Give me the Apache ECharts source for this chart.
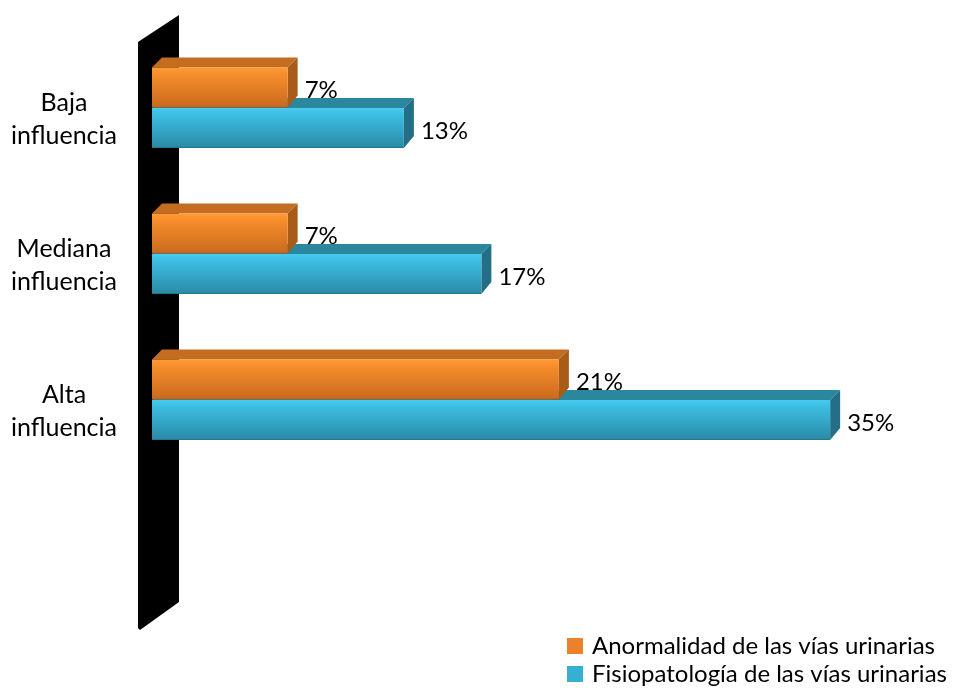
<!DOCTYPE html>
<html>
<head>
<meta charset="utf-8">
<script src="https://cdn.jsdelivr.net/npm/echarts@6/dist/echarts.min.js"></script>
<style>
  html, body { margin: 0; padding: 0; background: #fff; }
  #chart { width: 959px; height: 689px; }
</style>
</head>
<body>
<div id="chart"></div>
<script>
// data
var categories = ['Baja\ninfluencia', 'Mediana\ninfluencia', 'Alta\ninfluencia'];
var anormalidad = [7, 7, 21];
var fisiopatologia = [13, 17, 35];
var seriesNames = ['Anormalidad de las vías urinarias', 'Fisiopatología de las vías urinarias'];

var FONT = 'Lato';

/* ------ colours for the 3D boxes ------ */
var orange = {
    front: ['#ff9b36', '#f58d2b', '#cc6b1e'],
    top: '#c46d20',
    side: '#a95b18',
    legend: '#e9822a'
};
var blue = {
    front: ['#48cbee', '#3bbde2', '#2b8ca8'],
    top: '#2a879e',
    side: '#246f85',
    legend: '#35afd2'
};

// draws one bar as a little box: front, top and right face
function makeBox(col, upper) {
    return function (params, api) {
        var val = api.value(0);
        var idx = api.value(1);
        var p0 = api.coord([0, idx]);
        var p1 = api.coord([val, idx]);
        var band = api.size([0, 1])[1];
        var h = band * 0.274;
        var dx = 10, dy = 10;
        var x0 = p0[0], x1 = p1[0];
        var y0 = upper ? p0[1] - h : p0[1] + 0.5;
        var y1 = y0 + h;
        return {
            type: 'group',
            children: [{
                type: 'polygon',
                shape: { points: [[x0, y0], [x0 + dx, y0 - dy], [x1 + dx, y0 - dy], [x1, y0]] },
                style: { fill: col.top }
            }, {
                type: 'polygon',
                shape: { points: [[x1, y0], [x1 + dx, y0 - dy], [x1 + dx, y1 - dy - 2], [x1, y1]] },
                style: { fill: col.side }
            }, {
                type: 'rect',
                shape: { x: x0, y: y0, width: x1 - x0, height: h },
                style: {
                    fill: new echarts.graphic.LinearGradient(0, 0, 0, 1, [
                        { offset: 0, color: col.front[0] },
                        { offset: 0.18, color: col.front[1] },
                        { offset: 0.96, color: col.front[2] },
                        { offset: 1, color: col.side }
                    ])
                }
            }, {
                type: 'text',
                x: x1 + 17,
                y: (y0 + y1) / 2 + 3,
                style: {
                    text: val + '%',
                    font: '24px ' + FONT,
                    fill: '#000',
                    align: 'left',
                    verticalAlign: 'middle'
                }
            }]
        };
    };
}

var chart = echarts.init(document.getElementById('chart'));

var option = {
    animation: false,
    backgroundColor: '#fff',
    grid: { left: 152, width: 775, top: 34.5, height: 438 },
    xAxis: {
        type: 'value',
        min: 0,
        max: 40,
        show: false
    },
    yAxis: {
        type: 'category',
        data: categories,
        inverse: true,
        axisLine: { show: false },
        axisTick: { show: false },
        splitLine: { show: false },
        axisLabel: {
            margin: 88,
            align: 'center',
            color: '#000',
            // a blank first line pushes the two text lines a bit down, like the original
            formatter: function (v) {
                return '{p| }\n{t|' + v.split('\n').join('}\n{t|') + '}';
            },
            rich: {
                p: { fontSize: 10, height: 24, lineHeight: 24 },
                t: { fontFamily: FONT, fontSize: 25, lineHeight: 33, color: '#000' }
            }
        }
    },
    legend: {
        orient: 'vertical',
        left: 567,
        top: 632,
        padding: 0,
        itemWidth: 16,
        itemHeight: 16,
        itemGap: 0,
        icon: 'rect',
        textStyle: {
            fontFamily: FONT, fontSize: 24, lineHeight: 28, color: '#000',
            padding: [0, 0, 0, 4], width: 380, overflow: 'none'
        },
        data: seriesNames
    },
    graphic: [{
        // the black back wall
        type: 'polygon',
        z: 0,
        shape: { points: [[138, 42], [179, 15], [179, 602], [140, 630], [138, 628]] },
        style: { fill: '#000' }
    }],
    series: [{
        name: seriesNames[1],
        type: 'custom',
        z: 2,
        itemStyle: { color: blue.legend },
        encode: { x: 0, y: 1 },
        renderItem: makeBox(blue, false),
        data: fisiopatologia.map(function (v, i) { return [v, i]; })
    }, {
        name: seriesNames[0],
        type: 'custom',
        z: 3,
        itemStyle: { color: orange.legend },
        encode: { x: 0, y: 1 },
        renderItem: makeBox(orange, true),
        data: anormalidad.map(function (v, i) { return [v, i]; })
    }]
};

chart.setOption(option);
</script>
</body>
</html>
